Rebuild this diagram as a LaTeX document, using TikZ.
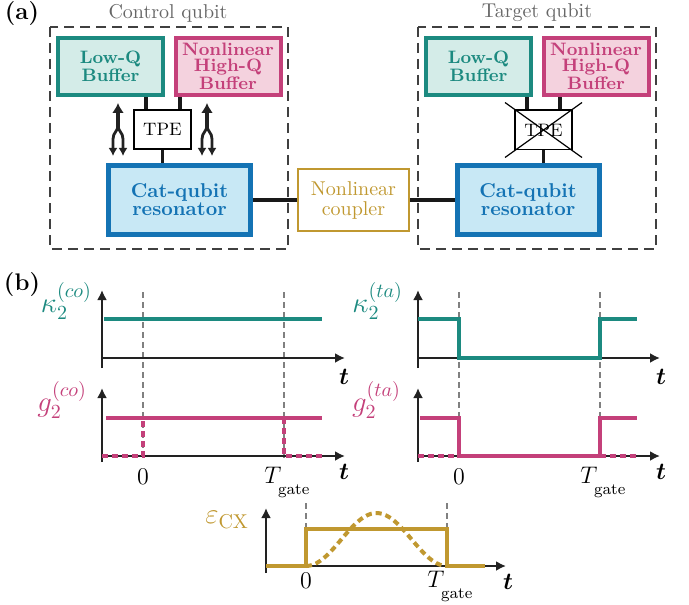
\documentclass[tikz,border=0pt]{standalone}
\usepackage{amsmath,amssymb}
\usepackage{tikz}
\usetikzlibrary{arrows.meta,positioning,calc}

\definecolor{lowq}{RGB}{28,138,128}
\definecolor{lowqfill}{RGB}{212,236,232}
\definecolor{highq}{RGB}{196,64,122}
\definecolor{highqfill}{RGB}{244,210,222}
\definecolor{catq}{RGB}{20,115,180}
\definecolor{catqfill}{RGB}{200,232,245}
\definecolor{coup}{RGB}{192,152,48}
\definecolor{axisgray}{RGB}{34,34,34}

\newcommand{\Tgate}{$T_{\lower4pt\hbox{$\scriptstyle\mathrm{gate}$}}$}

\tikzset{
  buffer/.style={draw, line width=2pt, minimum width=52.5pt, minimum height=28.5pt,
    align=center, inner sep=1pt, font=\fontsize{9}{8}\selectfont\bfseries},
  lowqbox/.style={buffer, draw=lowq, fill=lowqfill, text=lowq},
  highqbox/.style={buffer, draw=highq, fill=highqfill, text=highq},
  catbox/.style={draw=catq, fill=catqfill, text=catq, line width=2.5pt,
    minimum width=71pt, minimum height=34.5pt, align=center,
    font=\fontsize{10}{9}\selectfont\bfseries},
  tpebox/.style={draw, line width=0.8pt, minimum width=28.7pt, minimum height=19.7pt,
    inner sep=1pt, font=\small},
  coupbox/.style={draw=coup, text=coup, line width=1pt, minimum width=55.5pt,
    minimum height=30.5pt, align=center, font=\fontsize{10}{10}\selectfont},
  groupbox/.style={draw=black!75, line width=0.9pt, dash pattern=on 5pt off 3pt},
  grouplabel/.style={text=black!60, font=\normalsize},
  link/.style={line width=1.6pt, black!90},
  axis/.style={line width=1pt, axisgray, -{Latex[length=5pt,width=5pt]}},
  guide/.style={black!50, line width=0.6pt, dash pattern=on 3pt off 2pt},
  sig/.style={line width=2pt},
  sigdash/.style={line width=2pt, dash pattern=on 3pt off 2pt},
  tpefork/.pic={
    \draw[line width=2pt, axisgray, -{Latex[length=5pt,width=6pt]}] (0,24) -- (0,0);
    \draw[line width=1.4pt, axisgray, -{Latex[length=4pt,width=4.5pt]}]
      (0,22) .. controls (0,29) and (-5,29) .. (-5,36) -- (-5,53);
    \draw[line width=1.4pt, axisgray, -{Latex[length=4pt,width=4.5pt]}]
      (0,22) .. controls (0,29) and (5,29) .. (5,36) -- (5,53);
  }
}

\begin{document}
\begin{tikzpicture}[x=0.5pt, y=-0.5pt, >=Latex]
  \useasboundingbox (0,0) rectangle (689,604);

  % (a) circuit
  \node[font=\large\bfseries] (lbla) at (22,14) {(a)};

  % Control qubit
  \draw[groupbox] (50,27) rectangle (288,249);
  \node[grouplabel] (ctitle) at (168,13) {Control qubit};
  \node[lowqbox] (cLow) at (110.5,66.5) {Low-Q\\Buffer};
  \node[highqbox] (cHigh) at (228,66.5) {Nonlinear\\High-Q\\Buffer};
  \node[tpebox] (cTPE) at (162.5,129.5) {TPE};
  \node[catbox] (cCat) at (179.5,200) {Cat-qubit\\resonator};

  % Target qubit
  \draw[groupbox] (418,27) rectangle (656,249);
  \node[grouplabel] (ttitle) at (537,13) {Target qubit};
  \node[lowqbox] (tLow) at (478.5,66.5) {Low-Q\\Buffer};
  \node[highqbox] (tHigh) at (596,66.5) {Nonlinear\\High-Q\\Buffer};
  \node[tpebox] (tTPE) at (543.5,130) {TPE};
  \node[catbox] (tCat) at (528,200) {Cat-qubit\\resonator};

  % Coupler
  \node[coupbox] (coupler) at (353.5,200) {Nonlinear\\coupler};

  % Links
  \draw[link] ([xshift=-8.25pt]cTPE.north) -- ([xshift=-8.25pt]cTPE.north |- cLow.south);
  \draw[link] ([xshift=8.75pt]cTPE.north) -- ([xshift=8.75pt]cTPE.north |- cHigh.south);
  \draw[link] (cTPE.south) -- (cTPE.south |- cCat.north);
  \draw[link] ([xshift=-8.25pt]tTPE.north) -- ([xshift=-8.25pt]tTPE.north |- tLow.south);
  \draw[link] ([xshift=8.25pt]tTPE.north) -- ([xshift=8.25pt]tTPE.north |- tHigh.south);
  \draw[link] (tTPE.south) -- (tTPE.south |- tCat.north);
  \draw[link] (cCat.east) -- (coupler.west);
  \draw[link] (coupler.east) -- (tCat.west);

  % TPE switched off on the target
  \draw[line width=0.6pt] ($(tTPE.north west)+(-9,-7)$) -- ($(tTPE.south east)+(9,7)$);
  \draw[line width=0.6pt] ($(tTPE.south west)+(-9,7)$) -- ($(tTPE.north east)+(9,-7)$);

  % Photon exchange arrows
  \pic at (118,103) {tpefork};
  \pic at (207,103) {tpefork};

  % (b) pulses
  \node[font=\large\bfseries] (lblb) at (22,285) {(b)};

  % guides
  \draw[guide] (143,292) -- (143,458);
  \draw[guide] (284,292) -- (284,458);
  \draw[guide] (459,292) -- (459,458);
  \draw[guide] (600,292) -- (600,458);
  \draw[guide] (306,503) -- (306,566);
  \draw[guide] (447,503) -- (447,566);

  % control kappa
  \draw[axis] (102,368) -- (102,290);
  \draw[axis] (102,358) -- (345,358);
  \draw[sig, lowq] (104,319) -- (322,319);
  \node[anchor=east, text=lowq, font=\Large] (kco) at (99,301) {$\kappa_2^{(co)}$};
  \node[font=\large] (t1) at (344,377) {$\boldsymbol{t}$};

  % control g
  \draw[axis] (102,462) -- (102,388);
  \draw[axis] (102,456) -- (345,456);
  \draw[sig, highq] (106,418) -- (322,418);
  \draw[sigdash, highq] (102,456) -- (143,456) -- (143,418);
  \draw[sigdash, highq] (284,418) -- (284,456) -- (322,456);
  \node[anchor=east, text=highq, font=\Large] (gco) at (94,400) {$g_2^{(co)}$};
  \node[font=\large] (t2) at (344,472) {$\boldsymbol{t}$};
  \node[font=\large] (z1) at (143,477) {$0$};
  \node[font=\large, anchor=base west, inner sep=0pt] (T1) at (264,483) {\Tgate};

  % target kappa
  \draw[axis] (418,368) -- (418,290);
  \draw[axis] (418,358) -- (660,358);
  \draw[sig, lowq] (418,319) -- (459,319) -- (459,358) -- (600,358) -- (600,319) -- (637,319);
  \node[anchor=east, text=lowq, font=\Large] (kta) at (410,301) {$\kappa_2^{(ta)}$};
  \node[font=\large] (t3) at (661,377) {$\boldsymbol{t}$};

  % target g
  \draw[axis] (418,462) -- (418,388);
  \draw[axis] (418,456) -- (660,456);
  \draw[sigdash, highq] (418,456) -- (459,456);
  \draw[sigdash, highq] (600,456) -- (637,456);
  \draw[sig, highq] (420,418) -- (459,418) -- (459,456) -- (600,456) -- (600,418) -- (637,418);
  \node[anchor=east, text=highq, font=\Large] (gta) at (408,400) {$g_2^{(ta)}$};
  \node[font=\large] (t4) at (661,472) {$\boldsymbol{t}$};
  \node[font=\large] (z2) at (459,477) {$0$};
  \node[font=\large, anchor=base west, inner sep=0pt] (T2) at (580,483) {\Tgate};

  % CX drive
  \draw[axis] (266,573) -- (266,508);
  \draw[axis] (266,566) -- (506,566);
  \draw[sig, coup] (266,566) -- (306,566) -- (306,529) -- (447,529) -- (447,566) -- (485,566);
  \draw[sigdash, coup, domain=0:1, samples=40, smooth]
    plot ({306+141*\x}, {566-53*(1-cos(360*\x))/2});
  \node[anchor=east, text=coup, font=\Large] (eps) at (256,520) {$\varepsilon_{\text{CX}}$};
  \node[font=\large] (z3) at (306,581) {$0$};
  \node[font=\large, anchor=base west, inner sep=0pt] (T3) at (427,587) {\Tgate};
  \node[font=\large] (t5) at (508,582) {$\boldsymbol{t}$};
\end{tikzpicture}
\end{document}
